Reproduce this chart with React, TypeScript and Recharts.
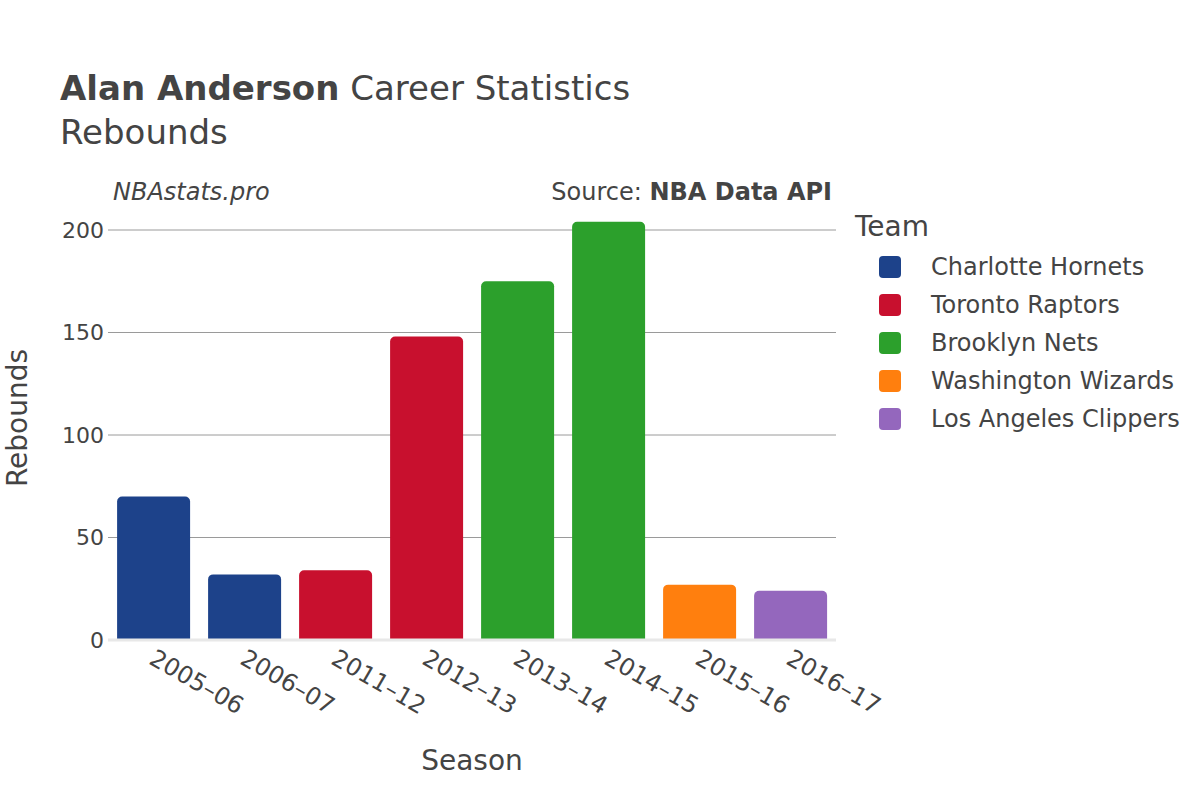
import React from 'react'
import { BarChart, Bar, XAxis, YAxis, CartesianGrid } from 'recharts'

const seasons = ['2005–06', '2006–07', '2011–12', '2012–13', '2013–14', '2014–15', '2015–16', '2016–17']
const seasonTeams = [
  'Charlotte Hornets',
  'Charlotte Hornets',
  'Toronto Raptors',
  'Toronto Raptors',
  'Brooklyn Nets',
  'Brooklyn Nets',
  'Washington Wizards',
  'Los Angeles Clippers',
]
const rebounds = [70, 32, 34, 148, 175, 204, 27, 24]

const teams = ['Charlotte Hornets', 'Toronto Raptors', 'Brooklyn Nets', 'Washington Wizards', 'Los Angeles Clippers']
const teamColors = ['#1D428A', '#C8102E', '#2CA02C', '#FF7F0E', '#9467BD']

const yTicks = [0, 50, 100, 150, 200]

const FONT = '"DejaVu Sans", sans-serif'
const TEXT = '#444'

// one row per season, value stored under the team's key so bars stack into one column
const chartData = seasons.map((season, i) => ({
  season,
  [seasonTeams[i]]: rebounds[i],
}))

function SeasonTick({ x, y, payload }: any) {
  return (
    <g transform={`translate(${x + 3},${y})`}>
      <text
        transform="rotate(30)"
        textAnchor="start"
        dy="0.72em"
        fill={TEXT}
        fontSize={24}
        fontFamily={FONT}
      >
        {payload.value}
      </text>
    </g>
  )
}

function ValueTick({ x, y, payload }: any) {
  return (
    <text x={x} y={y} textAnchor="end" dominantBaseline="central" fill={TEXT} fontSize={22} fontFamily={FONT}>
      {payload.value}
    </text>
  )
}

function TeamLegend() {
  return (
    <div style={{ position: 'absolute', left: 855, top: 210, fontFamily: FONT, color: TEXT }}>
      <div style={{ fontSize: 28, lineHeight: '34px', marginBottom: 4 }}>Team</div>
      {teams.map((team, i) => (
        <div key={team} style={{ display: 'flex', alignItems: 'center', height: 38 }}>
          <span
            style={{
              width: 22,
              height: 22,
              borderRadius: 4,
              background: teamColors[i],
              marginLeft: 24,
              marginRight: 30,
            }}
          />
          <span style={{ fontSize: 24, whiteSpace: 'nowrap' }}>{team}</span>
        </div>
      ))}
    </div>
  )
}

export default function App() {
  return (
    <div style={{ position: 'absolute', left: 0, top: 0, width: 1200, height: 800, background: '#fff', fontFamily: FONT }}>
      <div style={{ position: 'absolute', left: 60, top: 66, fontSize: 34, color: TEXT, lineHeight: '44px', whiteSpace: 'nowrap' }}>
        <b>Alan Anderson</b> Career Statistics
        <br />
        Rebounds
      </div>
      <div style={{ position: 'absolute', left: 113, top: 178, fontSize: 24, fontStyle: 'italic', color: TEXT }}>
        NBAstats.pro
      </div>
      <div style={{ position: 'absolute', right: 368, top: 178, fontSize: 24, color: TEXT, whiteSpace: 'nowrap' }}>
        Source: <b>NBA Data API</b>
      </div>
      <div
        style={{
          position: 'absolute',
          left: 17,
          top: 418,
          fontSize: 28,
          color: TEXT,
          transform: 'translate(-50%, -50%) rotate(-90deg)',
          whiteSpace: 'nowrap',
        }}
      >
        Rebounds
      </div>
      <div style={{ position: 'absolute', left: 472, top: 760, fontSize: 28, color: TEXT, transform: 'translate(-50%, -50%)' }}>
        Season
      </div>
      <TeamLegend />

      <BarChart
        width={1200}
        height={800}
        data={chartData}
        margin={{ top: 209.5, right: 364, bottom: 60, left: 48 }}
        barCategoryGap="10%"
        style={{ position: 'absolute', left: 0, top: 0 }}
      >
        <CartesianGrid vertical={false} horizontalValues={[50, 100, 150, 200]} stroke="#9a9a9a" strokeWidth={1} />
        <XAxis
          dataKey="season"
          height={100}
          axisLine={{ stroke: '#e8e8e8', strokeWidth: 3 }}
          tickLine={false}
          tickSize={0}
          tickMargin={8}
          interval={0}
          tick={<SeasonTick />}
        />
        <YAxis
          width={60}
          domain={[0, 210]}
          ticks={yTicks}
          axisLine={false}
          tickLine={false}
          tickSize={0}
          tickMargin={4}
          tick={<ValueTick />}
        />
        {teams.map((team, i) => (
          <Bar
            key={team}
            dataKey={team}
            name={team}
            stackId="season"
            fill={teamColors[i]}
            radius={[5, 5, 0, 0]}
            isAnimationActive={false}
          />
        ))}
      </BarChart>
    </div>
  )
}
